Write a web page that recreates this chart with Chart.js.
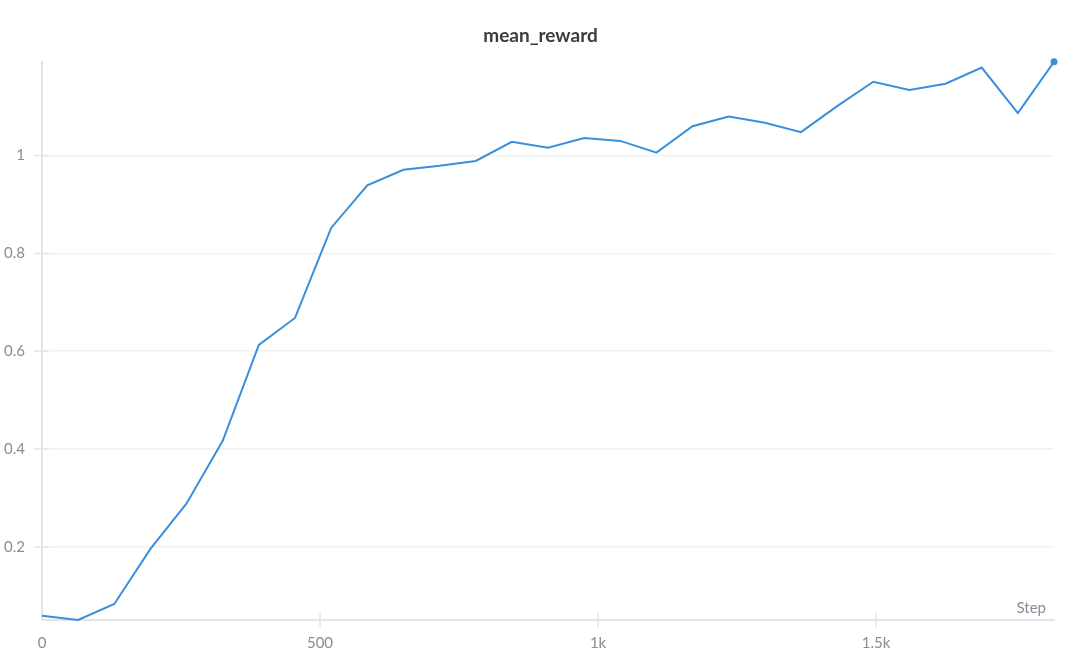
<!DOCTYPE html>
<html>
<head>
<meta charset="utf-8">
<script src="https://cdn.jsdelivr.net/npm/chart.js@4"></script>
<style>
  html, body { margin: 0; padding: 0; background: #fff; }
  #wrap { width: 1081px; height: 667px; }
</style>
</head>
<body>
<div id="wrap"><canvas id="rewardChart"></canvas></div>
<script>
const steps = [0, 65, 130, 195, 260, 325, 390, 455, 520, 585, 650, 715, 780, 845, 910,
  975, 1040, 1105, 1170, 1235, 1300, 1365, 1430, 1495, 1560, 1625, 1690, 1755, 1820];
const meanReward = [0.0595, 0.0506, 0.0834, 0.196, 0.289, 0.417, 0.613, 0.668, 0.852, 0.939,
  0.971, 0.979, 0.989, 1.028, 1.016, 1.036, 1.030, 1.006, 1.060, 1.080, 1.067, 1.048,
  1.101, 1.151, 1.134, 1.147, 1.180, 1.087, 1.1917];
const xTicks = [0, 500, 1000, 1500];
const xTickLabels = ["0", "500", "1k", "1.5k"];

const FONT = "Lato, 'Source Sans Pro', 'Noto Sans', sans-serif";
const TICK_COLOR = "#888c96";
const AXIS_COLOR = "#e4e4e8";

// tick stubs crossing the axes + the "Step" label
const axisExtras = {
  id: "axisExtras",
  afterDraw(chart) {
    const { ctx, chartArea, scales } = chart;
    ctx.save();
    ctx.strokeStyle = AXIS_COLOR;
    ctx.lineWidth = 1.5;
    xTicks.forEach((v) => {
      if (v === 0) return;
      const px = scales.x.getPixelForValue(v);
      ctx.beginPath();
      ctx.moveTo(px, chartArea.bottom - 7);
      ctx.lineTo(px, chartArea.bottom + 7);
      ctx.stroke();
    });
    scales.y.ticks.forEach((t) => {
      const py = scales.y.getPixelForValue(t.value);
      ctx.beginPath();
      ctx.moveTo(chartArea.left - 8, py);
      ctx.lineTo(chartArea.left + 7, py);
      ctx.stroke();
    });
    ctx.fillStyle = TICK_COLOR;
    ctx.font = "15px " + FONT;
    ctx.textAlign = "right";
    ctx.textBaseline = "middle";
    ctx.fillText("Step", chartArea.right - 8, chartArea.bottom - 12);
    ctx.restore();
  },
};

const points = steps.map((s, i) => ({ x: s, y: meanReward[i] }));

new Chart(document.getElementById("rewardChart"), {
  type: "line",
  data: {
    datasets: [
      {
        label: "mean_reward",
        data: points,
        borderColor: "#3a8fdc",
        backgroundColor: "#3a8fdc",
        borderWidth: 2,
        tension: 0,
        clip: false,
        pointRadius: (c) => (c.dataIndex === steps.length - 1 ? 3.5 : 0),
        pointBorderWidth: 0,
      },
    ],
  },
  options: {
    responsive: true,
    maintainAspectRatio: false,
    animation: false,
    layout: { padding: 0 },
    plugins: {
      legend: { display: false },
      tooltip: { enabled: false },
      title: {
        display: true,
        text: "mean_reward",
        color: "#3a3a3f",
        font: { family: FONT, size: 19, weight: "bold" },
        padding: { top: 24, bottom: 15 },
      },
    },
    scales: {
      x: {
        type: "linear",
        min: Math.min(...steps),
        max: Math.max(...steps),
        afterFit: (scale) => { scale.height = 47; },
        afterBuildTicks: (scale) => {
          scale.ticks = xTicks.map((v) => ({ value: v }));
        },
        grid: { display: true, drawOnChartArea: false, drawTicks: false },
        border: { color: AXIS_COLOR, width: 2 },
        ticks: {
          color: TICK_COLOR,
          font: { family: FONT, size: 15 },
          padding: 14,
          maxRotation: 0,
          callback: (v) => xTickLabels[xTicks.indexOf(v)],
        },
      },
      y: {
        type: "linear",
        min: Math.min(...meanReward),
        max: Math.max(...meanReward),
        afterFit: (scale) => { scale.width = 42; },
        grid: { color: "#f1f1f3", lineWidth: 1.5, drawTicks: false },
        border: { color: AXIS_COLOR, width: 2 },
        ticks: {
          stepSize: 0.2,
          includeBounds: false,
          color: TICK_COLOR,
          font: { family: FONT, size: 15 },
          padding: 17,
          callback: (v) => String(Math.round(v * 10) / 10),
        },
      },
      // empty right-hand gutter so the title stays centred on the canvas
      gutter: {
        type: "linear",
        position: "right",
        afterFit: (scale) => { scale.width = 27; },
        grid: { display: false },
        border: { display: false },
        ticks: { display: false },
      },
    },
  },
  plugins: [axisExtras],
});
</script>
</body>
</html>
